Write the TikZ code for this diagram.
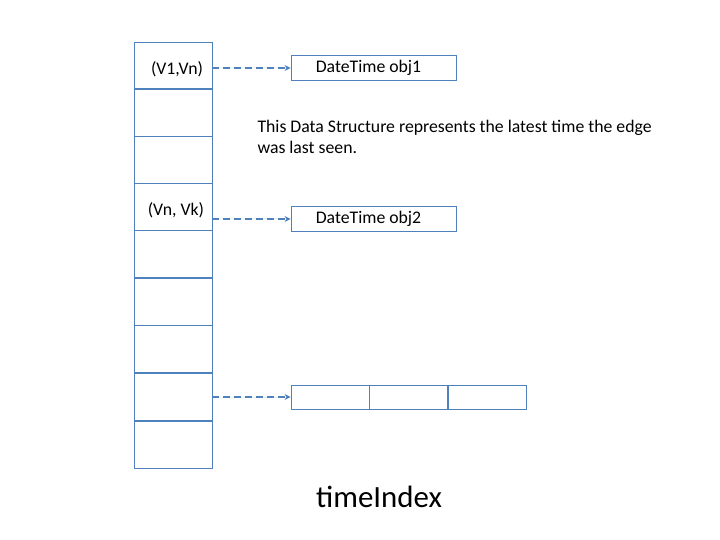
\documentclass[tikz,border=0pt]{standalone}
\usepackage{fontspec}
\setmainfont{Carlito}
\usetikzlibrary{arrows.meta, positioning}
\definecolor{lineblue}{RGB}{79,129,189}

\begin{document}
\begin{tikzpicture}[
		x=1bp, y=-1bp,
		cell/.style={draw=lineblue, line width=0.9pt, minimum width=78bp, minimum height=47bp, inner sep=0pt},
		objbox/.style={draw=lineblue, line width=0.9pt, minimum width=165bp, minimum height=25bp, inner sep=0pt},
		slot/.style={draw=lineblue, line width=0.9pt, minimum width=78bp, minimum height=24bp, inner sep=0pt},
		ptr/.style={-{Stealth[length=6pt, width=6pt]}, draw=lineblue, fill=lineblue, line width=2.1pt, dash pattern=on 6.5pt off 4.5pt},
		every node/.style={font=\fontsize{17.8}{21}\selectfont}
		]
		\useasboundingbox (0,0) rectangle (720,540);
		
		% index column
		\node[cell, minimum height=46bp] (c1) at (173,65) {};
		\foreach \i/\y in {2/112.5, 3/159.5, 4/206.5, 5/254, 6/301.5, 7/349, 8/397, 9/444.5}
			\node[cell] (c\i) at (173,\y) {};
		\node (k1) at (177,69) {(V1,Vn)};
		\node (k2) at (176,210) {(Vn, Vk)};
		
		% objects
		\node[objbox] (o1) at (373.5,68) {\hspace*{-10pt}DateTime obj1};
		\node[objbox] (o2) at (373.5,219) {\hspace*{-10pt}DateTime obj2};
		
		% array
		\node[slot] (a1) at (330,397) {};
		\node[slot, right=0pt of a1] (a2) {};
		\node[slot, right=0pt of a2] (a3) {};
		
		% pointers
		\draw[ptr] (c1.east |- o1.west) -- (o1.west);
		\draw[ptr] (c4.east |- o2.west) -- (o2.west);
		\draw[ptr] (c8.east |- a1.west) -- (a1.west);
		
		% text
		\node[anchor=north west, align=left] (note) at (254,117) {This Data Structure represents the latest time the edge\\was last seen.};
		\node[font=\fontsize{31}{36}\selectfont] (title) at (379,497) {timeIndex};
		
	\end{tikzpicture}
\end{document}
